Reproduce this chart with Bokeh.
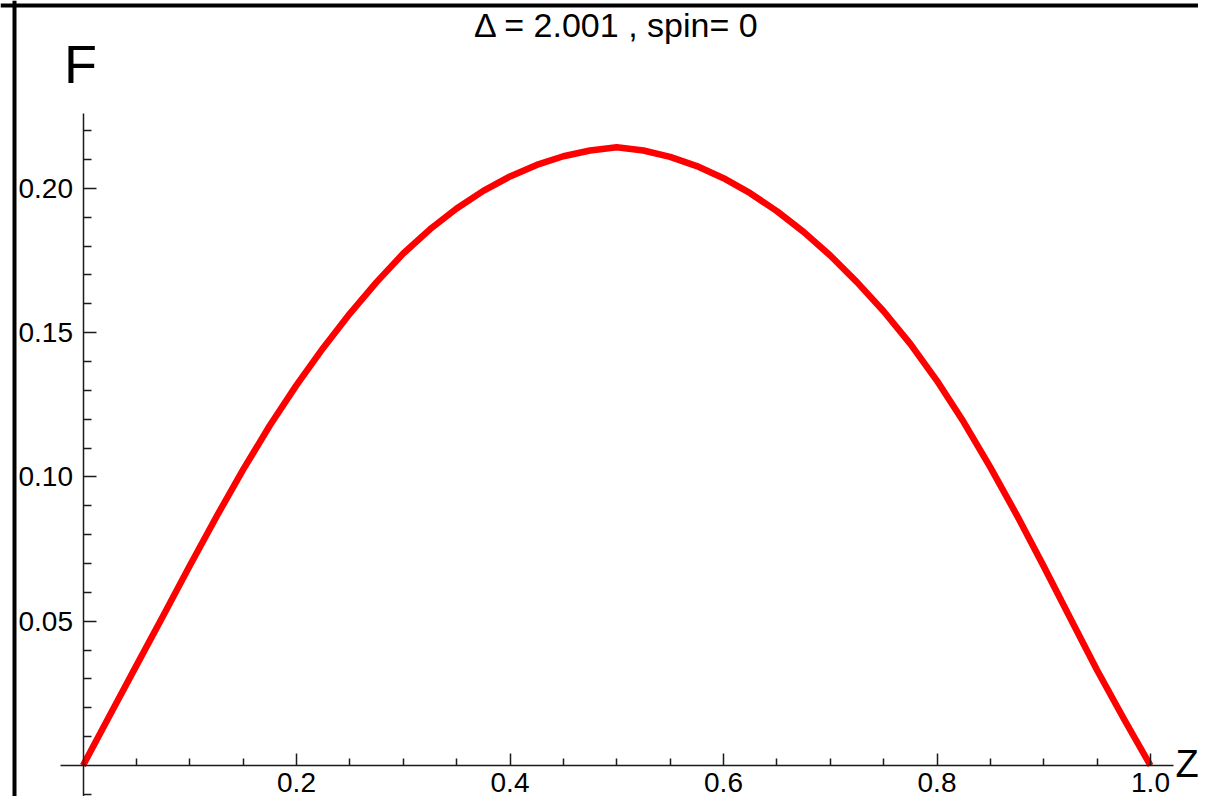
from bokeh.plotting import figure
from bokeh.models import Range1d, FixedTicker, PrintfTickFormatter, Label, Span
from bokeh.embed import file_html
from bokeh.resources import INLINE

# ---- data ----
z_vals = [0.000, 0.025, 0.050, 0.075, 0.100, 0.125, 0.150, 0.175, 0.200, 0.225,
          0.250, 0.275, 0.300, 0.325, 0.350, 0.375, 0.400, 0.425, 0.450, 0.475,
          0.500, 0.525, 0.550, 0.575, 0.600, 0.625, 0.650, 0.675, 0.700, 0.725,
          0.750, 0.775, 0.800, 0.825, 0.850, 0.875, 0.900, 0.925, 0.950, 0.975,
          1.000]
f_vals = [0.0000, 0.0173, 0.0346, 0.0518, 0.0692, 0.0862, 0.1025, 0.1178, 0.1318, 0.1447,
          0.1566, 0.1675, 0.1774, 0.1858, 0.1930, 0.1991, 0.2041, 0.2081, 0.2111, 0.2131,
          0.2142, 0.2131, 0.2109, 0.2077, 0.2035, 0.1983, 0.1921, 0.1849, 0.1767, 0.1675,
          0.1574, 0.1461, 0.1333, 0.1190, 0.1033, 0.0866, 0.0690, 0.0509, 0.0330, 0.0162,
          0.0000]

x_major = [0.2, 0.4, 0.6, 0.8, 1.0]
x_minor = [0.05, 0.1, 0.15, 0.25, 0.3, 0.35, 0.45, 0.5, 0.55, 0.65, 0.7, 0.75,
           0.85, 0.9, 0.95]
y_major = [0.05, 0.10, 0.15, 0.20]
y_minor = [-0.01, 0.01, 0.02, 0.03, 0.04, 0.06, 0.07, 0.08, 0.09, 0.11, 0.12,
           0.13, 0.14, 0.16, 0.17, 0.18, 0.19, 0.21, 0.22]

title_text = "\u0394 = 2.001 , spin= 0"
x_label = "Z"
y_label = "F"

# ---- layout (reference pixel geometry, shifted by OX/OY onto the canvas) ----
W, H = 1198, 796
OX, OY = 0, 3
X0, XPU = 82.5 - OX, 1067.5     # canvas px of z=0, px per unit
Y0, YPU = 768.0 - OY, 2886.0    # canvas px of F=0, px per unit


def dx(px):
    return (px - OX - X0) / XPU


def dy(py):
    return (Y0 - (py - OY)) / YPU


FONT = "Liberation Sans"
AX = "#1a1a1a"

p = figure(width=W, height=H, output_backend="svg", toolbar_location=None,
           x_range=Range1d((0 - X0) / XPU, (W - X0) / XPU),
           y_range=Range1d((Y0 - H) / YPU, Y0 / YPU),
           min_border=0, min_border_left=0, min_border_right=0,
           min_border_top=0, min_border_bottom=0)
p.grid.visible = False
p.outline_line_color = None
p.background_fill_color = "white"
p.border_fill_color = "white"

xa = p.xaxis[0]
xa.fixed_location = 0
xa.ticker = FixedTicker(ticks=x_major, minor_ticks=x_minor)
xa.formatter = PrintfTickFormatter(format="%.1f")
xa.bounds = (dx(60), dx(1173))
xa.major_tick_in = 12
xa.major_tick_out = 0
xa.minor_tick_in = 7
xa.minor_tick_out = 0
xa.axis_line_width = 1.5
xa.major_tick_line_width = 1.5
xa.minor_tick_line_width = 1.5
xa.axis_line_color = AX
xa.major_tick_line_color = AX
xa.minor_tick_line_color = AX
xa.major_label_text_font = FONT
xa.major_label_text_font_size = "28px"
xa.major_label_text_color = "black"
xa.major_label_standoff = 7

ya = p.yaxis[0]
ya.fixed_location = 0
ya.ticker = FixedTicker(ticks=y_major, minor_ticks=y_minor)
ya.formatter = PrintfTickFormatter(format="%.2f")
ya.bounds = (dy(803), dy(116))
ya.major_tick_in = 13
ya.major_tick_out = 0
ya.minor_tick_in = 8
ya.minor_tick_out = 0
ya.axis_line_width = 1.5
ya.major_tick_line_width = 1.5
ya.minor_tick_line_width = 1.5
ya.axis_line_color = AX
ya.major_tick_line_color = AX
ya.minor_tick_line_color = AX
ya.major_label_text_font = FONT
ya.major_label_text_font_size = "28px"
ya.major_label_text_color = "black"
ya.major_label_standoff = 10

p.line(z_vals, f_vals, line_color="#ff0000", line_width=6.5, line_join="round")

# frame border (top and left edges of the picture)
p.add_layout(Span(location=dx(14), dimension="height", line_color="black", line_width=4))
p.add_layout(Span(location=dy(8), dimension="width", line_color="black", line_width=4))

p.add_layout(Label(x=0.5, y=dy(27.5), text=title_text, text_align="center",
                   text_baseline="middle", text_font=FONT,
                   text_font_size="34px", text_color="black"))
p.add_layout(Label(x=dx(63.5), y=dy(66.5), text=y_label, text_align="left",
                   text_baseline="middle", text_font=FONT,
                   text_font_size="54px", text_color="black"))
p.add_layout(Label(x=dx(1175), y=dy(766), text=x_label, text_align="left",
                   text_baseline="middle", text_font=FONT,
                   text_font_size="38px", text_color="black"))

open("out.html", "w").write(file_html(p, INLINE))
